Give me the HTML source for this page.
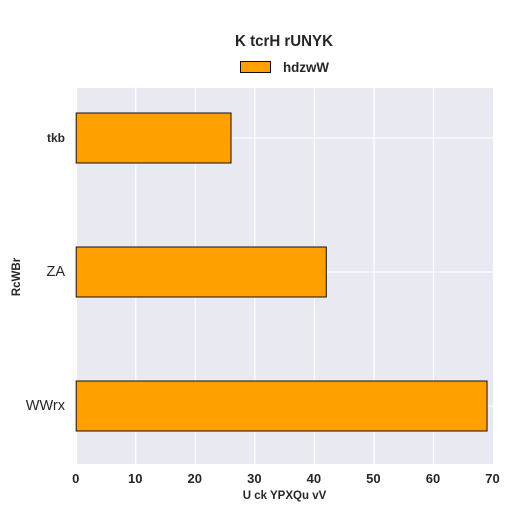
<!DOCTYPE html>
<html>
<head>
<meta charset="utf-8">
<style>
html,body{margin:0;padding:0;background:#fff;width:512px;height:512px;overflow:hidden}
svg{display:block}
text{font-family:"Liberation Sans",sans-serif;fill:#262626}
</style>
</head>
<body>
<svg id="chart" width="512" height="512" viewBox="0 0 512 512" xmlns="http://www.w3.org/2000/svg">
<text x="235" y="46" font-size="16" font-weight="bold" textLength="98" lengthAdjust="spacingAndGlyphs">K tcrH rUNYK</text>
<rect x="240.5" y="61.5" width="30" height="11" fill="#ffa000" stroke="#111" stroke-width="1"/>
<text x="283" y="72" font-size="14" font-weight="bold" textLength="46" lengthAdjust="spacingAndGlyphs">hdzwW</text>
<text x="284.5" y="499" text-anchor="middle" font-size="11.5" font-weight="bold">U ck YPXQu vV</text>
<text transform="translate(20,277) rotate(-90)" text-anchor="middle" font-size="11.5" font-weight="bold">RcWBr</text>
</svg>
<script>
var categories = ['tkb', 'ZA', 'WWrx'];
var seriesValues = [26, 42, 69];
var xTicks = [0, 10, 20, 30, 40, 50, 60, 70];
var xMax = 70;

var svg = document.getElementById('chart');
var NS = 'http://www.w3.org/2000/svg';
var plotLeft = 76.2, plotRight = 493, plotTop = 88, plotBottom = 464;
var bandStart = 138;
var barHeight = 50;
var catStyles = [
  {size: 12, weight: 'bold'},
  {size: 14.5, weight: 'normal'},
  {size: 14.5, weight: 'normal'}
];

function xScale(v) { return plotLeft + (v / xMax) * (plotRight - plotLeft); }
function yScale(i) { return bandStart + i * 134; }
function mk(tag, attrs) {
  var el = document.createElementNS(NS, tag);
  for (var k in attrs) el.setAttribute(k, attrs[k]);
  return el;
}

var bg = mk('rect', {x: 77, y: plotTop, width: plotRight - 77, height: plotBottom - plotTop, fill: '#e9e9f2'});


svg.insertBefore(bg, svg.firstChild);

xTicks.forEach(function (t) {
  if (t > 0 && t < xMax) {
    var g = mk('line', {x1: xScale(t), x2: xScale(t), y1: plotTop, y2: plotBottom, stroke: '#fff', 'stroke-width': 1.2});
    
    
    svg.appendChild(g);
  }
  var lbl = mk('text', {x: xScale(t) - 0.5, y: 483, 'text-anchor': 'middle', 'font-size': 13, 'font-weight': 'bold'});
  
  
  lbl.textContent = t;
  svg.appendChild(lbl);
});

categories.forEach(function (c, i) {
  var y = yScale(i);
  var g = mk('line', {x1: plotLeft, x2: plotRight, y1: y, y2: y, stroke: '#fff', 'stroke-width': 1.2});
  
  
  svg.appendChild(g);
});

categories.forEach(function (c, i) {
  var y = yScale(i);
  var bar = mk('rect', {x: plotLeft, y: y - barHeight / 2, width: xScale(seriesValues[i]) - plotLeft, height: barHeight, fill: '#ffa000', stroke: '#111', 'stroke-width': 1});
  
  
  svg.appendChild(bar);
  var lbl = mk('text', {x: 65, y: y + 4, 'text-anchor': 'end', 'font-size': catStyles[i].size, 'font-weight': catStyles[i].weight});
  
  
  lbl.textContent = c;
  svg.appendChild(lbl);
});
</script>
</body>
</html>
